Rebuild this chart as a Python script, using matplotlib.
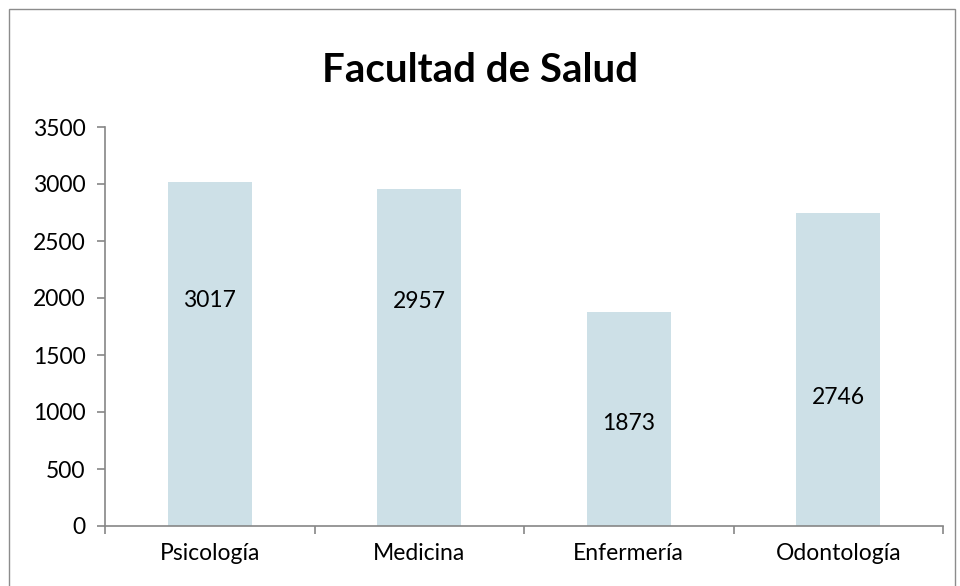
import numpy as np
import matplotlib.pyplot as plt
from matplotlib.patches import Rectangle

# datos
carreras = ['Psicología', 'Medicina', 'Enfermería', 'Odontología']
estudiantes = [3017, 2957, 1873, 2746]
# altura de la etiqueta como fracción de la barra (como en el original)
pos_etiqueta = [0.657, 0.667, 0.478, 0.409]

plt.rcParams['font.family'] = ['Lato', 'DejaVu Sans']

fig = plt.figure(figsize=(9.6, 5.86), dpi=100)
ax = fig.add_axes([105 / 960, 1 - 526 / 586, 838 / 960, 399 / 586])

x = np.arange(len(carreras))
ax.bar(x, estudiantes, width=0.4, color='#cde0e7', zorder=2)

for xi, v, f in zip(x, estudiantes, pos_etiqueta):
    ax.text(xi, v * f, str(v), ha='center', va='center', fontsize=16.5, color='black')

ax.set_xlim(-0.5, len(carreras) - 0.5)
ax.set_ylim(0, 3500)
ax.set_yticks(np.arange(0, 3501, 500))
ax.set_xticks(x)
ax.set_xticklabels(carreras)
ax.set_xticks(np.arange(-0.5, len(carreras), 1), minor=True)

gris = '#868686'
for s in ['top', 'right']:
    ax.spines[s].set_visible(False)
for s in ['left', 'bottom']:
    ax.spines[s].set_color(gris)
    ax.spines[s].set_linewidth(1.2)

ax.tick_params(axis='y', length=6, width=1.2, color=gris, labelsize=16.5, pad=8)
ax.tick_params(axis='x', which='major', length=0, labelsize=16.5, pad=12)
ax.tick_params(axis='x', which='minor', length=6, width=1.2, color=gris)

fig.text(0.5, 1 - 70 / 586, 'Facultad de Salud', ha='center', va='center',
         fontsize=29, fontweight='bold')

# marco exterior
fig.patches.append(Rectangle((9 / 960, -0.01), 946 / 960, 1 - 9 / 586 + 0.01,
                             transform=fig.transFigure, fill=False,
                             edgecolor='#8c8c8c', linewidth=1))

fig.savefig('out.png', dpi=100)
